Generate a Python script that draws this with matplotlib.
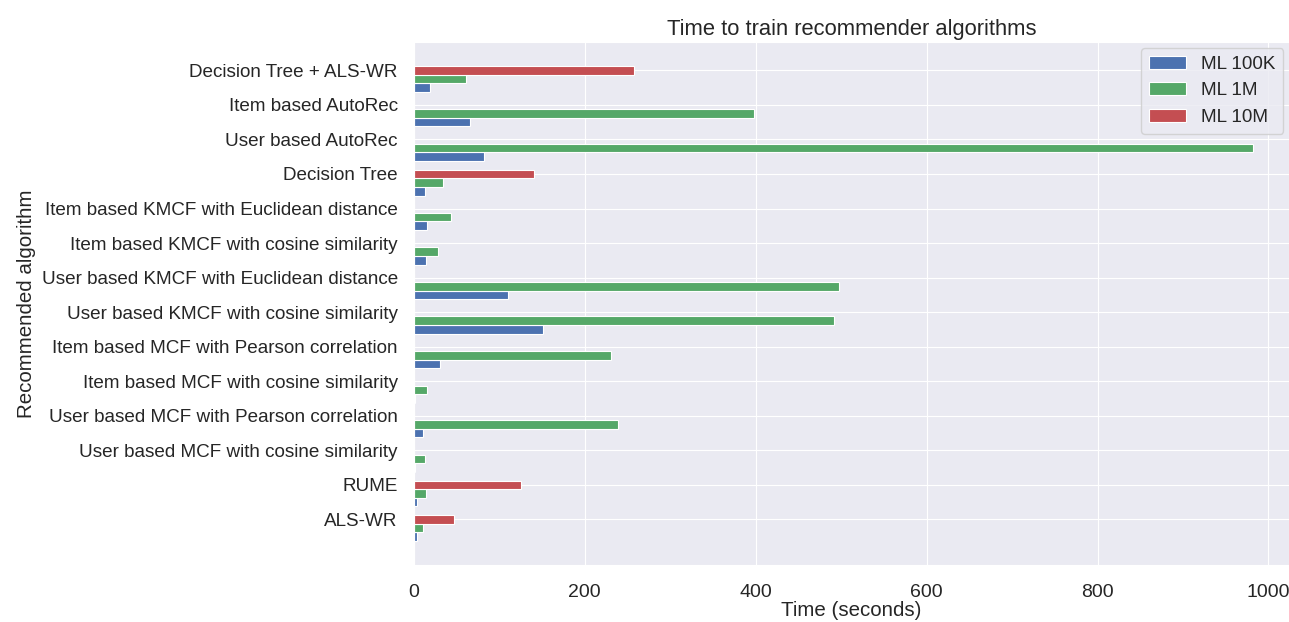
import numpy as np
import matplotlib
matplotlib.use('Agg')
import matplotlib.pyplot as plt
import seaborn as sns

sns.set_style('darkgrid')
plt.rcParams['font.family'] = ['Liberation Sans', 'DejaVu Sans']

algorithms = ['Decision Tree + ALS-WR', 'Item based AutoRec', 'User based AutoRec',
              'Decision Tree', 'Item based KMCF with Euclidean distance',
              'Item based KMCF with cosine similarity',
              'User based KMCF with Euclidean distance',
              'User based KMCF with cosine similarity',
              'Item based MCF with Pearson correlation',
              'Item based MCF with cosine similarity',
              'User based MCF with Pearson correlation',
              'User based MCF with cosine similarity', 'RUME', 'ALS-WR']
ml_100k = [19, 66, 82, 13, 16, 14.5, 110, 151, 31, 1.5, 11, 1, 4, 4]
ml_1m = [61, 398, 982, 34, 44, 28, 498, 492, 231, 16, 239, 13, 14.5, 11]
ml_10m = [258, 0, 0, 141, 0, 0, 0, 0, 0, 0, 0, 0, 126, 47]

width = 0.25
ind = np.arange(len(algorithms))[::-1]

fig = plt.figure(figsize=(12.89, 6.22), dpi=100)
ax = fig.add_axes([0.321, 0.092, 0.679, 0.84])

ax.barh(ind, ml_100k, width, color='#4C72B0', edgecolor='white', linewidth=0.8, label='ML 100K')
ax.barh(ind + width, ml_1m, width, color='#55A868', edgecolor='white', linewidth=0.8, label='ML 1M')
ax.barh(ind + 2 * width, ml_10m, width, color='#C44E52', edgecolor='white', linewidth=0.8, label='ML 10M')

ax.set_yticks(ind + 2 * width)
ax.set_yticklabels(algorithms, fontsize=13.6)
ax.tick_params(axis='y', pad=8)
ax.tick_params(axis='x', labelsize=14, pad=10)
ax.set_xlim(0, 1024)
ax.set_xlabel('Time (seconds)', fontsize=14.8, labelpad=0)
ax.set_ylabel('Recommended algorithm', fontsize=14.8)
ax.set_title('Time to train recommender algorithms', fontsize=15.8, pad=5)
ax.legend(loc='upper right', fontsize=13.6, frameon=True, borderaxespad=0.3)

fig.savefig('out.png', dpi=100)
